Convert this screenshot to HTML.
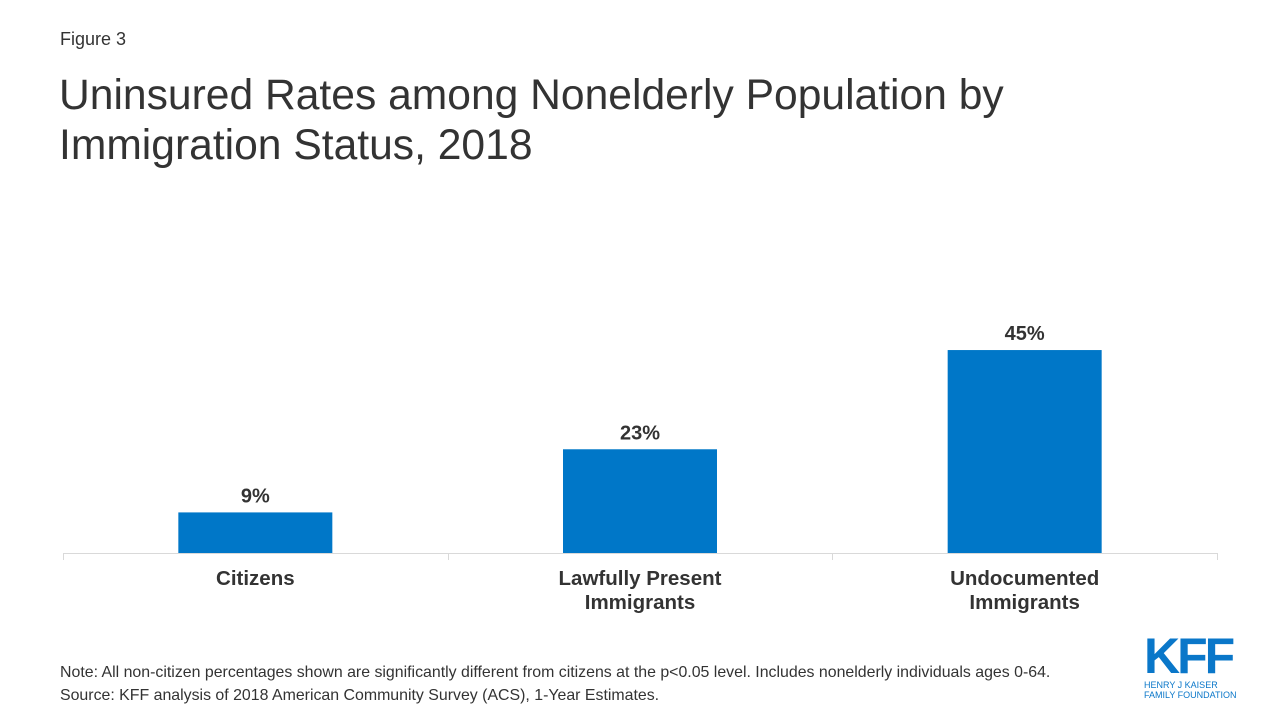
<!DOCTYPE html>
<html><head><meta charset="utf-8"><style>
body{margin:0;width:1280px;height:720px;background:#fff;font-family:"Liberation Sans",Arial,sans-serif;overflow:hidden;position:relative}
.t{position:absolute;color:#333}
</style></head><body>
<div class="t" style="left:60px;top:29px;font-size:18px">Figure 3</div>
<div class="t" style="left:59px;top:70px;font-size:42.6px;line-height:50px;color:#333">Uninsured Rates among Nonelderly Population by<br>Immigration Status, 2018</div>
<svg id="chart" width="1280" height="720" style="position:absolute;left:0;top:0"></svg>
<div class="t" style="left:60px;top:661px;font-size:15.9px;line-height:23px;white-space:nowrap">Note: All non-citizen percentages shown are significantly different from citizens at the p&lt;0.05 level. Includes nonelderly individuals ages 0-64.<br>Source: KFF analysis of 2018 American Community Survey (ACS), 1-Year Estimates.</div>
<div style="position:absolute;left:1144px;top:633px;width:100px;color:#0a77c9;white-space:nowrap">
<div style="font-size:50px;font-weight:bold;line-height:46px;letter-spacing:-3px">KFF</div>
<div style="font-size:9px;line-height:10px;margin-top:1px">HENRY J KAISER<br>FAMILY FOUNDATION</div></div>
<script>
const categories=[["Citizens"],["Lawfully Present","Immigrants"],["Undocumented","Immigrants"]];
const values=[9,23,45];
const labels=["9%","23%","45%"];
const svg=document.getElementById('chart');const NS="http://www.w3.org/2000/svg";
const x0=63,x1=1217,base=553,scale=4.51,bw=154;
const step=(x1-x0)/categories.length;
const y=v=>base-v*scale;
function mk(t,a){const e=document.createElementNS(NS,t);for(const k in a)e.setAttribute(k,a[k]);svg.appendChild(e);return e;}
values.forEach((v,i)=>{
 const cx=x0+step*(i+0.5);
 const r=mk('rect',{x:cx-bw/2,y:y(v),width:bw,height:base-y(v),fill:'#0077c8'});
 
 
 const t=mk('text',{x:cx,y:y(v)-10,'text-anchor':'middle','font-size':20,'font-weight':'bold',fill:'#333'});
 t.textContent=labels[i];
 
 
 categories[i].forEach((ln,j)=>{
  const c=mk('text',{x:cx,y:585+j*24,'text-anchor':'middle','font-size':20.5,'font-weight':'bold',fill:'#333'});
  c.textContent=ln;
  
  
 });
});
const ax=mk('line',{x1:x0,x2:x1,y1:base+0.5,y2:base+0.5,stroke:'#d9d9d9','stroke-width':1});


for(let i=0;i<=categories.length;i++){
 const xx=Math.round(x0+step*i)+0.5;
 const tk=mk('line',{x1:xx,x2:xx,y1:base,y2:base+7,stroke:'#d9d9d9'});
 
 
}
</script>
</body></html>
